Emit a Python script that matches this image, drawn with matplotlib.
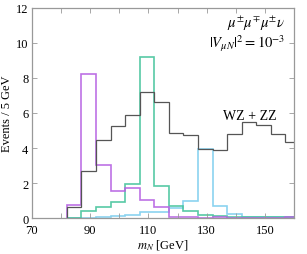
import numpy as np
import matplotlib
matplotlib.use("Agg")
import matplotlib.pyplot as plt
from matplotlib.ticker import MultipleLocator, FixedLocator

plt.rcParams["font.family"] = ["Liberation Serif", "DejaVu Serif"]
plt.rcParams["mathtext.fontset"] = "stix"

# 5 GeV bins
edges = np.arange(82, 163, 5)
bkg    = [0.63, 2.67, 4.46, 5.27, 5.87, 7.18, 6.61, 4.85, 4.74, 3.97, 3.90, 4.78, 5.47, 5.33, 4.80, 4.32]
sig90  = [0.76, 8.25, 3.05, 1.56, 1.70, 1.05, 0.65, 0.05, 0.04, 0.02, 0.05, 0.03, 0.02, 0.02, 0.03, 0.05]
sig110 = [0.02, 0.38, 0.61, 0.90, 1.93, 9.22, 1.85, 0.70, 0.38, 0.19, 0.12, 0.08, 0.05, 0.06, 0.08, 0.08]
sig130 = [0.00, 0.03, 0.08, 0.13, 0.20, 0.35, 0.33, 0.55, 0.95, 3.95, 0.67, 0.25, 0.08, 0.05, 0.05, 0.04]

fig = plt.figure(figsize=(3.07, 2.55), dpi=100)
ax = fig.add_axes([0.104, 0.141, 0.854, 0.824])

ax.stairs(sig130, edges, color="#7fcfee", lw=1.2, alpha=0.9)
ax.stairs(sig110, edges, color="#45c49c", lw=1.2, alpha=0.9)
ax.stairs(sig90,  edges, color="#b662e2", lw=1.2, alpha=0.9)
ax.stairs(bkg,    edges, color="#555555", lw=0.9)

ax.set_xlim(70, 160)
ax.set_ylim(0, 12)
ax.xaxis.set_major_locator(FixedLocator([70, 90, 110, 130, 150]))
ax.xaxis.set_minor_locator(MultipleLocator(10))
ax.yaxis.set_major_locator(MultipleLocator(2))
ax.tick_params(which="both", direction="in", top=True, right=True,
               length=3.5, width=0.6, color="#999999", labelsize=9)
ax.tick_params(axis="x", pad=4)
ax.tick_params(axis="y", pad=2.5)
for s in ax.spines.values():
    s.set_color("#999999")
    s.set_linewidth(0.9)

ax.set_xlabel(r"$m_N$ [GeV]", fontsize=9, labelpad=1)
ax.set_ylabel("Events / 5 GeV", fontsize=9, labelpad=2)

ax.text(0.965, 0.93, r"$\mu^{\pm}\mu^{\mp}\mu^{\pm}\nu$", transform=ax.transAxes,
        ha="right", va="center", fontsize=10.5)
ax.text(0.965, 0.835, r"$|V_{\mu N}|^2 = 10^{-3}$", transform=ax.transAxes,
        ha="right", va="center", fontsize=10.5)
ax.text(144.7, 5.85, "WZ + ZZ", ha="center", va="center", fontsize=10)

fig.savefig("out.png", dpi=100)
